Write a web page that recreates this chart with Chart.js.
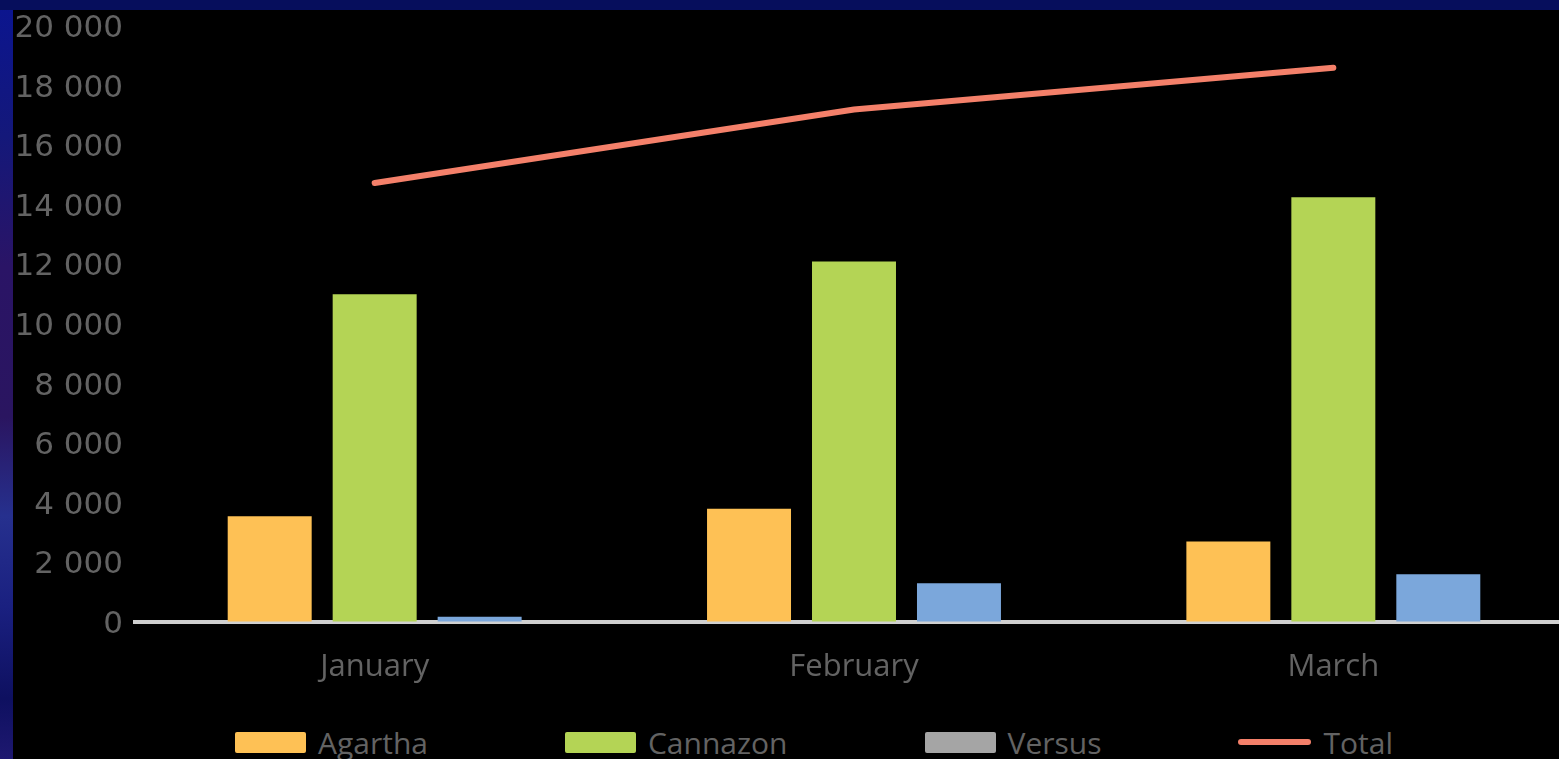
<!DOCTYPE html>
<html>
<head>
<meta charset="utf-8">
<script src="https://cdn.jsdelivr.net/npm/chart.js@4.4.1/dist/chart.umd.min.js"></script>
<style>
  html, body { margin: 0; padding: 0; }
  body {
    width: 1559px; height: 759px; overflow: hidden; position: relative;
    background: linear-gradient(180deg, #0b1590 0%, #14187a 18%, #2a1466 35%, #2a1560 55%, #26308e 68%, #1a2080 80%, #0e1060 92%, #1e1870 100%);
  }
  #topbar { position: absolute; left: 0; top: 0; width: 1559px; height: 10px; background: #060e5c; }
  #panel { position: absolute; left: 13px; top: 10px; width: 1546px; height: 749px; background: #000; overflow: hidden; }
  #wrap { position: absolute; left: 0; top: 0; width: 1602px; height: 700px; }
  #legend {
    position: absolute; left: 0; top: 712px; width: 1602px; height: 40px;
    display: flex; justify-content: center; align-items: center; gap: 0;
    font-family: "Open Sans", sans-serif; font-size: 30px; color: #636363;
  }
  .item { display: flex; align-items: center; white-space: nowrap; }
  .item + .item { margin-left: 137px; }
  .sw { width: 71px; height: 21px; border-radius: 2px; margin-right: 12px; }
  .ln { width: 73px; height: 6px; border-radius: 3px; margin-right: 12px; }
</style>
</head>
<body>
<div id="topbar"></div>
<div id="panel">
  <div id="wrap"><canvas id="c" width="1602" height="700"></canvas></div>
  <div id="legend"></div>
</div>
<script>
const categories = ["January", "February", "March"];
const agartha  = [3550, 3800, 2700];
const cannazon = [11000, 12100, 14250];
const versus   = [180, 1300, 1600];
const total    = [14730, 17200, 18600];
const seriesNames = ["Agartha", "Cannazon", "Versus", "Total"];
const barColors = ["#fec155", "#b4d455", "#7ba7db"];
const legendColors = ["#fec155", "#b4d455", "#a5a5a5", "#f4806a"];
const yTickValues = [0, 2000, 4000, 6000, 8000, 10000, 12000, 14000, 16000, 18000, 20000];

const fmt = v => String(v).replace(/\B(?=(\d{3})+(?!\d))/g, " ");
const textColor = "#636363";
const fontFamily = "'Open Sans', sans-serif";

const barData = [agartha, cannazon, versus];
const datasets = barData.map((d, i) => ({
  type: "bar",
  label: seriesNames[i],
  data: d,
  backgroundColor: barColors[i],
  borderWidth: 0,
  categoryPercentage: 0.657,
  barPercentage: 0.8,
  order: 2
}));
datasets.push({
  type: "line",
  label: seriesNames[3],
  data: total,
  borderColor: legendColors[3],
  backgroundColor: legendColors[3],
  borderWidth: 6,
  borderCapStyle: "round",
  pointRadius: 0,
  tension: 0,
  order: 1
});

const chart = new Chart(document.getElementById("c"), {
  data: { labels: categories, datasets },
  options: {
    responsive: false,
    animation: false,
    devicePixelRatio: 1,
    layout: { padding: { top: 16, right: 42, left: 0, bottom: 0 } },
    plugins: { legend: { display: false }, tooltip: { enabled: false } },
    scales: {
      x: {
        offset: true,
        grid: { display: false, drawTicks: false },
        border: { display: true, color: "#d0d0d0", width: 4 },
        ticks: { color: textColor, font: { family: fontFamily, size: 31 }, padding: 27 },
        afterFit: s => { s.height = 88; }
      },
      y: {
        min: 0, max: 20000,
        grid: { display: true, drawOnChartArea: false, drawTicks: true, tickLength: 12, tickColor: "rgba(0,0,0,0)" },
        border: { display: false },
        afterBuildTicks: s => { s.ticks = yTickValues.map(v => ({ value: v })); },
        ticks: { color: textColor, font: { family: "'DejaVu Sans', sans-serif", size: 31, lineHeight: 1 }, padding: 0, labelOffset: 3, callback: v => fmt(v) },
        afterFit: s => { s.width = 122; }
      }
    }
  }
});

const legend = document.getElementById("legend");
chart.data.datasets.forEach((ds, i) => {
  const item = document.createElement("div");
  item.className = "item";
  const sw = document.createElement("div");
  sw.className = ds.type === "line" ? "ln" : "sw";
  sw.style.background = legendColors[i];
  const t = document.createElement("span");
  t.textContent = ds.label;
  item.appendChild(sw); item.appendChild(t);
  legend.appendChild(item);
});
</script>
</body>
</html>
